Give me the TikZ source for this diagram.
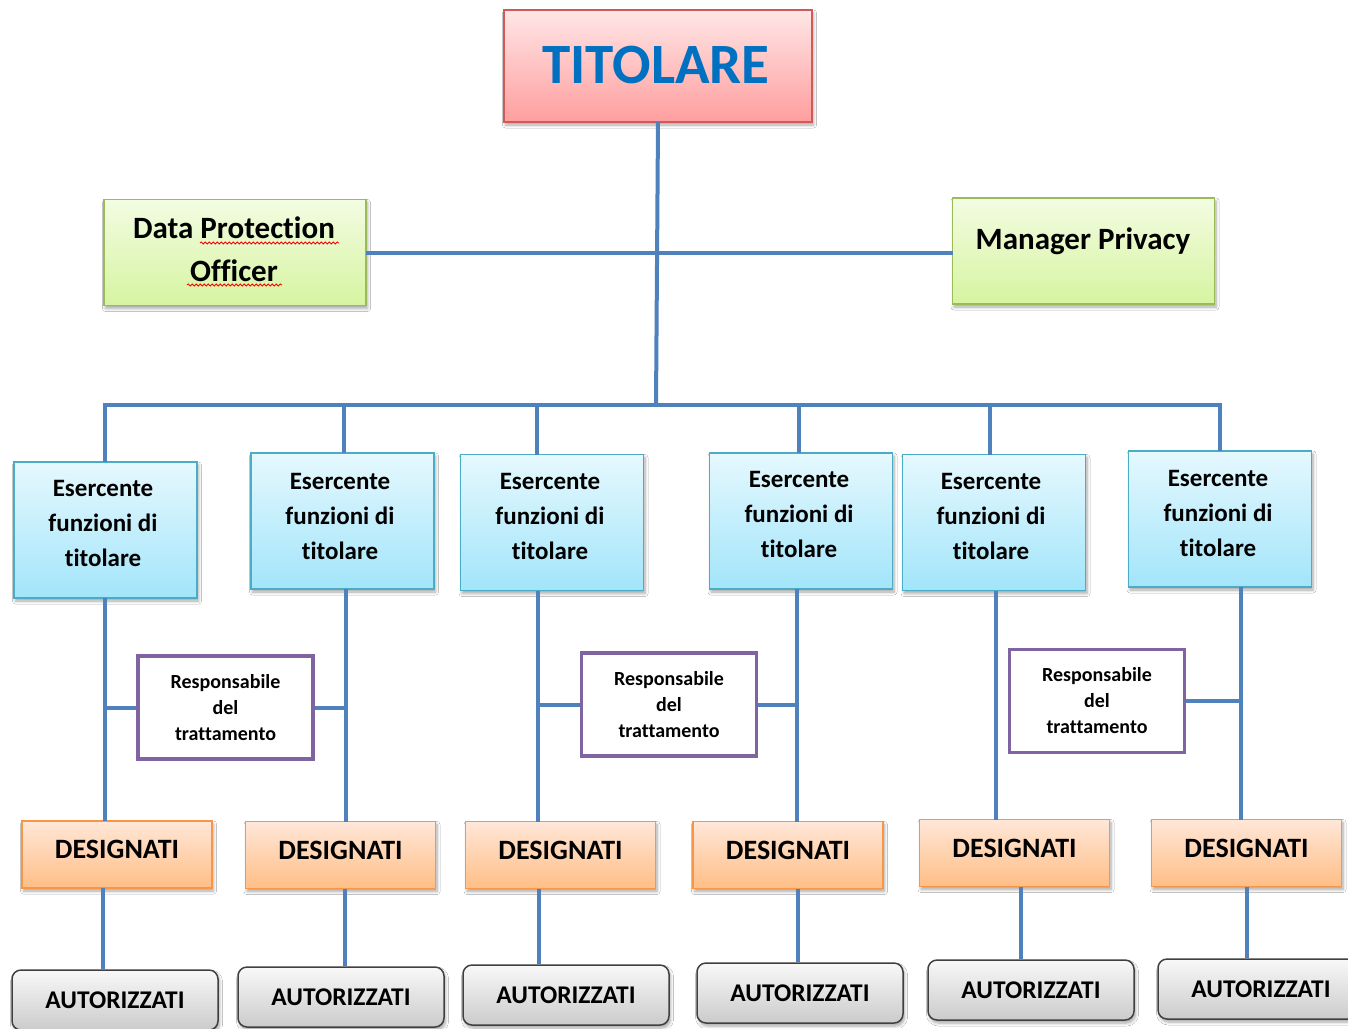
\documentclass[tikz,border=0pt]{standalone}
\usepackage{fontspec}
\setmainfont{Carlito}[Ligatures={NoCommon}]
\usetikzlibrary{shadows,shadows.blur,decorations.pathmorphing,calc}

\definecolor{conn}{HTML}{4F81BD}
\definecolor{titB}{HTML}{D05A58}
\definecolor{titT}{HTML}{FFE6E6}
\definecolor{titBot}{HTML}{FF9E9E}
\definecolor{titText}{HTML}{0070C0}
\definecolor{grB}{HTML}{9BBB59}
\definecolor{grT}{HTML}{F3FCE2}
\definecolor{grBot}{HTML}{D6F4A0}
\definecolor{blB}{HTML}{4BACC6}
\definecolor{blT}{HTML}{E6F8FE}
\definecolor{blBot}{HTML}{A2E5FA}
\definecolor{orB}{HTML}{F79646}
\definecolor{orT}{HTML}{FFE7D8}
\definecolor{orBot}{HTML}{FFBE86}
\definecolor{gyB}{HTML}{404040}
\definecolor{gyT}{HTML}{F8F8F8}
\definecolor{gyBot}{HTML}{CBCBCB}
\definecolor{puB}{HTML}{8064A2}

\tikzset{
  softshadow/.style={blur shadow={shadow blur steps=6, shadow xshift=1.5pt,
    shadow yshift=-3pt, shadow blur radius=3pt, shadow opacity=35}},
  boxbase/.style={rectangle, inner sep=0pt, outer sep=0pt, softshadow},
  titbox/.style={boxbase, draw=titB, line width=1.5pt, top color=titT, bottom color=titBot,
    minimum width=308pt, minimum height=112pt},
  titlabel/.style={text=titText, font=\bfseries\fontsize{57}{60}\selectfont},
  greenbox/.style={boxbase, draw=grB, line width=1.5pt, top color=grT, bottom color=grBot,
    minimum width=262pt, minimum height=106pt},
  greenlabel/.style={align=center, font=\bfseries\fontsize{31}{43}\selectfont},
  bluebox/.style={boxbase, draw=blB, line width=1.5pt, top color=blT, bottom color=blBot,
    minimum width=183pt, minimum height=136pt},
  bluelabel/.style={align=center, font=\bfseries\fontsize{25}{35}\selectfont},
  respbox/.style={rectangle, draw=puB, line width=3.5pt, fill=white, inner sep=0pt,
    minimum width=175pt, minimum height=103pt, align=center,
    font=\bfseries\fontsize{20}{26}\selectfont},
  desbox/.style={boxbase, draw=orB, line width=1.5pt, top color=orT, bottom color=orBot,
    minimum width=190pt, minimum height=67pt, text depth=10pt,
    font=\bfseries\fontsize{28}{30}\selectfont},
  autbox/.style={rectangle, rounded corners=9pt, inner sep=0pt, draw=gyB, line width=1.5pt,
    top color=gyT, bottom color=gyBot, minimum width=206pt, minimum height=60pt,
    softshadow, font=\bfseries\fontsize{25.5}{28}\selectfont},
  link/.style={draw=conn, line width=4pt},
  squiggle/.style={draw=red, line width=0.8pt, decorate,
    decoration={snake, amplitude=1.1pt, segment length=4pt}}
}

\begin{document}
\begin{tikzpicture}[x=1pt,y=-1pt]
\useasboundingbox (0,0) rectangle (1348,1028);
\fill[white] (0,0) rectangle (1348,1028);

% coordinates for line positions
\coordinate (bus) at (656,405);
\coordinate (busL) at (103,405);
\coordinate (busR) at (1222,405);
\foreach \n/\x in {1/105,2/344,3/537,4/799,5/990,6/1220} { \coordinate (b\n) at (\x,0); }
\foreach \n/\x in {1/105,2/346,3/538,4/797,5/996,6/1241} { \coordinate (c\n) at (\x,0); }
\foreach \n/\x in {1/103,2/345,3/539,4/798,5/1021,6/1247} { \coordinate (l\n) at (\x,0); }

% top
\node[titbox] (tit) at (658,66) {};
\node[titlabel] (titT) at (656,65) {TITOLARE};

\node[greenbox] (dpo) at (235,252.5) {};
\node[greenlabel] (dpoT) at (234,249) {Data Protection\\Officer};
\node[greenbox] (mp) at (1083.5,251) {};
\node[greenlabel] (mpT) at (1083,241) {Manager Privacy};

\draw[squiggle] (200,243) -- (339,243);
\draw[squiggle] (187,285) -- (282,285);

% esercente
\node[bluebox] (e1) at (105.5,530) {};
\node[bluebox] (e2) at (342.5,521) {};
\node[bluebox] (e3) at (552,522.5) {};
\node[bluebox] (e4) at (801,521) {};
\node[bluebox] (e5) at (994,522.5) {};
\node[bluebox] (e6) at (1220,519) {};
\node[bluelabel] (e1T) at (103,523) {Esercente\\funzioni di\\titolare};
\node[bluelabel] (e2T) at (340,516) {Esercente\\funzioni di\\titolare};
\node[bluelabel] (e3T) at (550,516) {Esercente\\funzioni di\\titolare};
\node[bluelabel] (e4T) at (799,514) {Esercente\\funzioni di\\titolare};
\node[bluelabel] (e5T) at (991,516) {Esercente\\funzioni di\\titolare};
\node[bluelabel] (e6T) at (1218,513) {Esercente\\funzioni di\\titolare};

% responsabile
\node[respbox] (r1) at (225.5,707.5) {Responsabile\\del\\trattamento};
\node[respbox] (r2) at (669,704.5) {Responsabile\\del\\trattamento};
\node[respbox] (r3) at (1097,701) {Responsabile\\del\\trattamento};

% designati
\node[desbox] (d1) at (117,854.5) {DESIGNATI};
\node[desbox] (d2) at (340.5,855) {DESIGNATI};
\node[desbox] (d3) at (560.5,855) {DESIGNATI};
\node[desbox] (d4) at (788,855) {DESIGNATI};
\node[desbox] (d5) at (1014.5,853) {DESIGNATI};
\node[desbox] (d6) at (1246.5,853) {DESIGNATI};

% autorizzati
\node[autbox] (a1) at (115,1000) {AUTORIZZATI};
\node[autbox] (a2) at (341,997) {AUTORIZZATI};
\node[autbox] (a3) at (566,995) {AUTORIZZATI};
\node[autbox] (a4) at (800,993) {AUTORIZZATI};
\node[autbox] (a5) at (1031,990) {AUTORIZZATI};
\node[autbox] (a6) at (1261,989) {AUTORIZZATI};

% connectors
\draw[link] (tit.south) -- (bus);
\draw[link] (dpo.east) -- (dpo.east -| mp.west);
\draw[link] (busL) -- (busR);
\foreach \n in {1,...,6} {
  \draw[link] (e\n.north -| b\n) -- (bus -| b\n);
  \draw[link] (e\n.south -| c\n) -- (d\n.north -| c\n);
  \draw[link] (d\n.south -| l\n) -- (a\n.north -| l\n);
}
\draw[link] (r1.west) -- (r1.west -| c1);
\draw[link] (r1.east) -- (r1.east -| c2);
\draw[link] (r2.west) -- (r2.west -| c3);
\draw[link] (r2.east) -- (r2.east -| c4);
\draw[link] (r3.east) -- (r3.east -| c6);
\end{tikzpicture}
\end{document}
